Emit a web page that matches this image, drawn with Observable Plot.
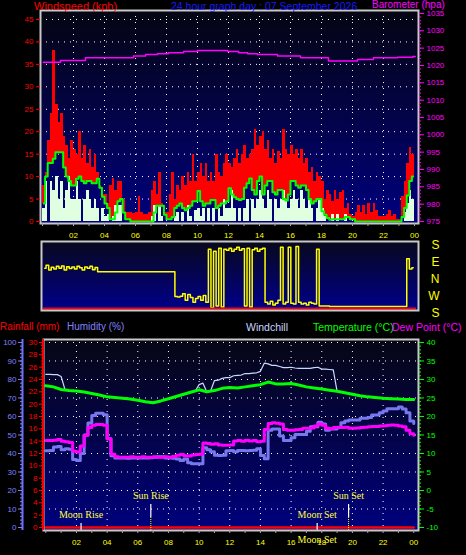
<!DOCTYPE html>
<html><head><meta charset="utf-8">
<script src="https://cdn.jsdelivr.net/npm/d3@7"></script>
<script src="https://cdn.jsdelivr.net/npm/@observablehq/plot@0.6"></script>
<style>
html,body{margin:0;padding:0;background:#000;}
#root{position:relative;width:466px;height:555px;background:#000;overflow:hidden;font-family:"Liberation Sans",Arial,sans-serif;}
.lbl{position:absolute;white-space:nowrap;font-size:11px;line-height:10px;}
.pnl{position:absolute;left:0;}
.pnl svg{overflow:visible;}
</style></head><body><div id="root"></div><script>
// ---------- DATA ----------
// Wind (10-minute samples, index i -> hour i/6), kph
const windGust = [
 8,11,18,24,38,26, 22,24,19,17,14,18, 16,15,20,14,17,13, 16,12,15,11,8,6,
 6,4,8,9.5,7,9, 9,5,2,2,2,1.8, 2,5.5,2,1.5,1.5,2, 7,9,6,11,4,2,
 2,6,11,5,8,7, 10,8,11,9,15,9, 11,13,10,13,9,11, 9,15,11,10,13,15,
 13,12,14,16,13,15, 17,14,15,16,20.5,17, 19,20,16,18,14,16, 13,15.5,14,20.5,16,15,
 17,15,16,14,16,13, 14,11,12,9,11,10, 9,5,7,6,4.5,7, 5,6.5,7,3,4,1.5,
 1,2,3.5,2,3.5,1.5, 4,2,4,2.5,1,1, 1,1.5,2.5,1,1.5,0.5, 0.5,5.5,9,13,16.5,15];
const windAvg = [
 4,10,13,13,14,15.4, 15.4,15.4,12,10,9,8, 8,9.5,10,9,8.5,9, 9,8.5,8.5,9.5,7.5,5.5,
 4,3,0.5,0.5,2,4.5, 5,2,0.5,0.5,0,0, 0,0,0,0,0,0, 0,2,3.5,3.5,3.5,1.5,
 0.5,0.5,1,3,3.5,4, 3,2.5,3,3.5,4.5,4.5, 6.8,4.5,3.5,4,4,4.8, 4.8,3,3.5,4,4,4.5,
 7.4,6,5.4,5,4.8,5, 7.5,8.5,9.6,7,6,9, 10,6,8,9,9,6.5, 6,7,7,5,4.7,6,
 9,9,8,7.5,8,8, 7,5,4,4.5,5,5, 2.3,1.5,0.8,0.4,0.5,0.5, 0.5,0.5,0.5,1,1,0.5,
 0.5,0,0,0,0,0, 0,0,0,0,0,0, 0,0,0,0,0,0, 0,1,3,5.8,9,10];
const windSpeed = [
 3,9,0,9,7,10, 5,9,3,7,10,5, 5,9,5,0,5,7, 5,3,5,3,0,3,
 1,1.5,0,1,3.5,3.5, 3.5,0,0,0,0,0, 0,0,0,0,0,0, 1,3.5,0,3.5,1,0,
 0,0,0,1,2,0, 2,0,3.5,1,0,2.5, 3,1,3,0,3,0, 3,0,3,1,5,3,
 3,7,3,0,3,0, 3,5,0,5,3,5, 7,5,3,7,5,0, 5,3,5,7,5,3,
 5,7,5,3,7,5, 3,5,3,0,3,5, 3,1,0,0,1.5,0, 1.5,0,0,1.5,0,0,
 0,0,0,0,0,0, 0,0,0,0,0,0, 0,0,0,0,0,0, 0,0,2,4,7,5];
// Barometer (hPa), step changes
const baroHours  = [0.05, 1.16, 2.77, 5.87, 6.65, 7.42, 8.13, 9.1, 10.0, 11.94, 12.65, 13.23, 13.87, 15.16, 16.65, 18.45, 20.32, 21.35, 22.9, 23.9, 24.05];
const baroValues = [1020.9, 1021.4, 1022.2, 1022.7, 1023.2, 1023.4, 1023.7, 1024.0, 1024.3, 1024.0, 1023.7, 1023.4, 1023.2, 1022.7, 1022.2, 1021.3, 1021.7, 1022.2, 1022.4, 1022.6, 1022.6];
// Wind direction (10-minute samples), degrees, N=0, E=90, W=-90, S=+/-180
const windDir = [
 60,75,50,65,55,70, 60,72,50,68,58,66, 55,70,62,50,66,60, 70,52,64,41,41,41,
 41,41,41,41,41,41, 41,41,41,41,41,41, 41,41,41,41,41,41, 41,41,41,41,41,41,
 41,41,41,-90,-92,-88, -75,-110,-80,-95,-120,-100, -90,-110,-85,-120,160,-150, 150,-140,165,-145,160,155,
 165,150,160,170,155,162, -140,165,-145,158,165,150, 160,165,-120,-130,-115,-135, -125,-110,170,-130,-120,170,
 -125,-130,175,-120,-130,-125, -135,-120,-125,-130,160,-140, -140,-140,-140,-143,-143,-143, -143,-143,-143,-143,-143,-143,
 -143,-143,-143,-143,-143,-143, -143,-143,-143,-143,-143,-143, -143,-143,-143,-143,-143,-143, -143,-143,-143,110,55,62];
const dirLabels = ["S","E","N","W","S"];
const dirLabelValues = [180, 90, 0, -90, -180];
// Temperature (°C), half-hourly from 00:00
const temperature = [28.3,28.0, 27.3,27.0, 26.9,26.6, 26.2,25.8, 25.3,25.1, 24.9,24.7, 24.4,24.0, 23.7,24.2,
 24.8,25.4, 26.0,26.6, 27.2,26.7, 27.0,27.6, 27.8,27.7, 28.0,28.3, 28.6,29.3, 28.8,28.8, 28.9,28.5,
 28.0,27.7, 27.4,27.1, 26.8,26.4, 26.0,25.6, 25.3,25.1, 24.9,24.8, 24.7,24.6, 24.6];
// Quarter-hourly series from 00:00
const dewPoint = [13.5,13.5,13.6,13.8, 13.3,13.2,13.0,10.6, 10.4,12.0,14.9,17.0, 17.6,17.8,17.8,17.6,
 14.0,9.8,9.1,9.0, 9.0,9.0,9.1,9.0, 9.0,9.1,9.0,9.0, 9.1,9.0,9.0,9.1, 9.0,9.2,9.5,9.7, 9.4,9.3,9.6,9.7,
 9.8,12.8,12.7,12.5, 12.6,12.3,12.2,12.2, 12.3,13.4,13.5,13.3, 13.6,13.4,13.5,13.2, 13.3,16.5,18.1,18.3,
 18.2,18.0,16.5,16.3, 16.3,16.4,16.5,16.8, 16.8,16.9,17.4,18.0, 17.6,16.8,16.7,17.0, 17.1,17.0,17.1,16.8,
 16.8,16.9,17.0,17.1, 17.2,17.3,17.3,17.4, 17.5,17.6,17.7,17.6, 17.4,17.2,16.3,15.3, 14.9];
const humidity = [41.5,41.6,43.5,43.8, 42.0,42.5,42.3,36.8, 36.2,40.0,50.0,56.5, 60.5,61.8,61.8,61.0,
 48.0,38.8,37.6,37.5, 37.6,37.4,37.6,37.5, 37.6,37.5,37.6,37.7, 38.0,38.2,38.2,37.6, 37.5,37.4,37.0,36.2,
 37.0,35.0,34.4,34.4, 34.4,43.1,42.0,41.0, 39.0,38.9,39.0,41.5, 41.6,41.0,41.6,41.6, 41.5,41.6,41.8,42.5,
 38.9,37.1,52.5,53.3, 53.3,49.5,47.0,47.0, 48.5,50.3,50.3,50.3, 52.0,54.4,54.4,56.9, 56.0,52.5,53.3,53.3,
 54.0,56.6,57.5,58.1, 58.1,58.1,59.0,59.0, 59.5,60.8,60.8,62.0, 63.0,64.2,64.2,64.2, 65.1,64.0,62.0,57.5, 56.2];
const windChill = [31.4,31.4,31.3,31.3, 30.8,27.3,27.0,27.0, 26.9,26.8,26.6,26.4, 26.2,26.0,25.8,25.5,
 25.3,25.2,25.1,25.0, 24.9,24.8,24.7,24.5, 24.4,24.2,24.0,23.8, 23.7,23.9,24.2,24.5, 24.8,25.1,25.4,25.7,
 26.0,26.3,26.6,26.9, 28.6,29.0,26.7,26.9, 29.7,29.8,30.3,30.5, 30.5,31.0,31.1,31.2, 31.6,31.6,31.7,31.8,
 32.2,34.4,34.2,33.8, 33.8,33.5,33.2,33.2, 33.3,33.1,33.0,33.0, 33.0,33.0,33.2,33.3, 32.8,32.8,32.7,32.6,
 26.8,26.6,26.4,26.2, 26.0,25.8,25.6,25.4, 25.3,25.2,25.1,25.0, 24.9,24.85,24.8,24.75, 24.7,24.65,24.6,24.6, 24.6];
// Rainfall (mm), hourly
const rainfall = [0,0,0,0,0,0,0,0,0,0,0,0,0,0,0,0,0,0,0,0,0,0,0,0,0];
// Sun and moon events (hour of day)
const eventNames = ["Moon Rise", "Sun Rise", "Moon Set", "Sun Set"];
const eventHours = [2.3, 6.85, 17.7, 19.75];
const eventKinds = ["moon", "sun", "moon", "sun"];
// Axis tick values
const hourTicks = d3.range(0, 25, 1);
const hourLabelTicks = d3.range(2, 25, 2);
const windTicks = [0,5,10,15,20,25,30,35,40,45];
const baroTicks = [975,980,985,990,995,1000,1005,1010,1015,1020,1025,1030,1035];
const humTicks = [0,10,20,30,40,50,60,70,80,90,100];
const rainTicks = [0,2,4,6,8,10,12,14,16,18,20,22,24,26,28,30];
const tempTicks = [-10,-5,0,5,10,15,20,25,30,35,40];

// ---------- HELPERS ----------
const YELLOW = "#ffff00";
const fmtHour = h => String(h % 24).padStart(2, "0");
const baroK = 0.77228;              // hPa -> kph-axis units
const toWindAxis = p => (p - 975) * baroK;
const tempToHum = t => (t + 10) * 2;
const rainToHum = r => r * 10 / 3;

function gradientBg(id, c0, c1) {
  return (index, scales, values, dims) => {
    const g = d3.create("svg:g");
    const lg = g.append("defs").append("linearGradient").attr("id", id)
      .attr("x1", 0).attr("y1", 0).attr("x2", 0).attr("y2", 1);
    lg.append("stop").attr("offset", 0).attr("stop-color", c0);
    lg.append("stop").attr("offset", 1).attr("stop-color", c1);
    g.append("rect").attr("x", dims.marginLeft).attr("y", dims.marginTop)
      .attr("width", dims.width - dims.marginLeft - dims.marginRight)
      .attr("height", dims.height - dims.marginTop - dims.marginBottom)
      .attr("fill", `url(#${id})`);
    return g.node();
  };
}
const baseStyle = {background: "transparent", color: "#fff", fontFamily: "Liberation Sans, Arial, sans-serif", fontSize: "8px", overflow: "visible"};
const root = document.getElementById("root");
function place(node, top) {
  const d = document.createElement("div");
  d.className = "pnl"; d.style.top = top + "px";
  d.appendChild(node); root.appendChild(d);
}
function label(text, left, top, color, size) {
  const s = document.createElement("span");
  s.className = "lbl"; s.textContent = text;
  s.style.left = left + "px"; s.style.top = top + "px"; s.style.color = color;
  if (size) s.style.fontSize = size + "px";
  root.appendChild(s);
}

// ---------- PANEL 1: wind speed + barometer ----------
const windRows = windGust.map((g, i) => ({t: i / 6, gust: g, avg: windAvg[i], speed: windSpeed[i]}));
const baroRows = baroHours.map((h, i) => ({t: h, v: toWindAxis(baroValues[i])}));
const p1 = Plot.plot({
  width: 466, height: 245, marginLeft: 40, marginRight: 48, marginTop: 10, marginBottom: 22,
  style: baseStyle,
  x: {domain: [-0.13, 24.26], axis: null},
  y: {domain: [-0.45, 47], axis: null, label: null},
  marks: [
    gradientBg("g1", "#050512", "#00007e"),
    Plot.ruleY(windTicks.slice(1), {stroke: "#ffffff", strokeDasharray: "1,5"}),
    Plot.ruleX(hourLabelTicks.slice(0, -1), {stroke: "#ffffff", strokeDasharray: "1,5"}),
    Plot.rect(windRows, {x1: "t", x2: d => d.t + 1/6, y1: "avg", y2: "gust", fill: "#ff0000", shapeRendering: "crispEdges"}),
    Plot.rect(windRows, {x1: "t", x2: d => d.t + 1/6, y1: 0, y2: "speed", fill: "#e0ffe0", shapeRendering: "crispEdges"}),
    Plot.line(windRows, {x: d => d.t + 1/12, y: "avg", stroke: "#00ff00", strokeWidth: 2, curve: "step"}),
    Plot.line(baroRows, {x: "t", y: "v", stroke: "#ff00ff", strokeWidth: 1.5, curve: "step-after"}),
    Plot.frame({stroke: "#c8c8c8", strokeWidth: 2}),
    Plot.axisY({anchor: "left", ticks: windTicks, tickFormat: v => String(v), tickSize: 4, tickPadding: 3, color: "#ff0000", label: null}),
    Plot.axisY({anchor: "right", ticks: baroTicks.map(toWindAxis), tickFormat: v => String(Math.round(v / baroK + 975)), tickSize: 5, tickPadding: 3, color: "#ff00ff", label: null}),
    Plot.axisY({anchor: "right", ticks: d3.range(975, 1036).map(toWindAxis), tickFormat: () => "", tickSize: 2, color: "#ff00ff", label: null}),
    Plot.axisX({anchor: "bottom", ticks: hourTicks, tickFormat: () => "", tickSize: 3, color: "#a8a8a8", label: null}),
    Plot.axisX({anchor: "bottom", ticks: hourLabelTicks, tickFormat: fmtHour, tickSize: 0, tickPadding: 9, color: YELLOW, label: null})
  ]
});
place(p1, 0);

// ---------- PANEL 2: wind direction ----------
const dirRows = windDir.map((d, i) => ({t: i / 6 + 1/12, d}));
const dirDomain = [-164, 201];
const p2 = Plot.plot({
  width: 466, height: 80, marginLeft: 41, marginRight: 48, marginTop: 1, marginBottom: 10,
  style: baseStyle,
  x: {domain: [-0.13, 24.26], axis: null},
  y: {domain: dirDomain, axis: null, label: null},
  marks: [
    gradientBg("g2", "#08081c", "#00008c"),
    Plot.line(dirRows, {x: "t", y: "d", stroke: YELLOW, strokeWidth: 1.5, curve: "step"}),
    Plot.ruleY([dirDomain[0]], {dy: -2, stroke: "#ff0000", strokeWidth: 2, insetLeft: 2, insetRight: 2}),
    Plot.frame({stroke: "#c8c8c8", strokeWidth: 2}),
    Plot.text(dirLabels, {y: (d, i) => dirLabelValues[i], text: d => d, frameAnchor: "right", dx: 21, fill: YELLOW, fontSize: 12})
  ]
});
place(p2, 240);

// ---------- PANEL 3: temperature, humidity, dew point, rain ----------
const q = i => i / 4;
const tempRows = temperature.map((v, i) => ({t: i / 2, y: tempToHum(v)}));
const dewRows = dewPoint.map((v, i) => ({t: q(i), y: tempToHum(v)}));
const humRows = humidity.map((v, i) => ({t: q(i), y: v}));
const chillRows = windChill.map((v, i) => ({t: q(i), y: tempToHum(v)}));
const rainRows = rainfall.map((v, i) => ({t: i, y: rainToHum(v)}));
const events = eventNames.map((n, i) => ({name: n, t: eventHours[i], kind: eventKinds[i]}));
const sunEv = events.filter(e => e.kind === "sun");
const moonEv = events.filter(e => e.kind === "moon");
const x3 = [-0.15, 24.31];
const p3 = Plot.plot({
  width: 466, height: 235, marginLeft: 43, marginRight: 48, marginTop: 19, marginBottom: 25,
  style: baseStyle,
  x: {domain: x3, axis: null},
  y: {domain: [-1.62, 101.6], axis: null, label: null},
  marks: [
    gradientBg("g3", "#060614", "#00007e"),
    Plot.ruleY(humTicks.slice(1), {stroke: "#ffffff", strokeDasharray: "1,5"}),
    Plot.ruleX(hourLabelTicks.slice(0, -1), {stroke: "#ffffff", strokeDasharray: "1,5"}),
    Plot.line(chillRows, {x: "t", y: "y", stroke: "#c8d8ff", strokeWidth: 1.2}),
    Plot.line(tempRows, {x: "t", y: "y", stroke: "#00ff00", strokeWidth: 3}),
    Plot.line(humRows, {x: "t", y: "y", stroke: "#7878ee", strokeWidth: 3, curve: "step-after"}),
    Plot.line(dewRows, {x: "t", y: "y", stroke: "#ff00ff", strokeWidth: 3, curve: "step-after"}),
    Plot.line(rainRows, {x: "t", y: "y", stroke: "#ff0000", strokeWidth: 2.5}),
    Plot.ruleX(sunEv, {x: "t", insetTop: 165, insetBottom: 13, stroke: "#ffffff", strokeWidth: 1.2}),
    Plot.ruleX(sunEv, {x: "t", insetTop: 178, stroke: YELLOW, strokeDasharray: "1,1"}),
    Plot.ruleX(moonEv, {x: "t", insetTop: 184, stroke: "#ffffff", strokeWidth: 1.2}),
    Plot.text(sunEv, {x: "t", text: "name", frameAnchor: "bottom", dy: -32, fill: "#ffff40", fontSize: 10, fontFamily: "Liberation Serif, serif"}),
    Plot.text(moonEv, {x: "t", text: "name", frameAnchor: "bottom", dy: -13, fill: "#ffff40", fontSize: 10, fontFamily: "Liberation Serif, serif"}),
    Plot.frame({stroke: "#c8c8c8", strokeWidth: 2}),
    Plot.ruleX([x3[0]], {dx: -0.5, stroke: "#ff0000", strokeWidth: 2}),
    Plot.ruleX([x3[0]], {dx: -21, stroke: "#7070ff", strokeWidth: 2}),
    Plot.axisY({anchor: "left", ticks: rainTicks.map(rainToHum), tickFormat: v => String(Math.round(v * 0.3)), tickSize: 4, tickPadding: 2, color: "#ff0000", label: null}),
    Plot.axisY({anchor: "left", ticks: d3.range(0, 30.01, 0.5).map(rainToHum), tickFormat: () => "", tickSize: 2, color: "#ff0000", label: null}),
    Plot.axisY({anchor: "left", ticks: humTicks, tickFormat: v => String(v), tickSize: 4, tickPadding: 2, dx: -21, color: "#8080ff", label: null}),
    Plot.axisY({anchor: "left", ticks: d3.range(0, 101, 2), tickFormat: () => "", tickSize: 2, dx: -21, color: "#8080ff", label: null}),
    Plot.axisY({anchor: "right", ticks: tempTicks.map(tempToHum), tickFormat: v => String(Math.round(v / 2 - 10)), tickSize: 5, tickPadding: 3, color: "#00ff00", label: null}),
    Plot.axisY({anchor: "right", ticks: d3.range(-10, 41, 1).map(tempToHum), tickFormat: () => "", tickSize: 2, color: "#00ff00", label: null}),
    Plot.axisX({anchor: "bottom", ticks: hourTicks, tickFormat: () => "", tickSize: 3, color: "#a8a8a8", label: null}),
    Plot.axisX({anchor: "bottom", ticks: hourLabelTicks, tickFormat: fmtHour, tickSize: 0, tickPadding: 9, color: YELLOW, label: null}),
    Plot.text(events.filter(e => e.name === "Moon Set"), {x: "t", text: "name", frameAnchor: "bottom", dy: 12, fill: "#ffff40", fontSize: 10, fontFamily: "Liberation Serif, serif"})
  ]
});
place(p3, 320);

// ---------- TITLES ----------
label("Windspeed (kph)", 34, 1, "#ff0000");
label("24 hour graph day : 07 September 2026", 171, 1, "#1818ff", 10.5);
label("Barometer (hpa)", 372, 0, "#ff00ff", 10);
label("Rainfall (mm)", 0, 322, "#ff0000", 10);
label("Humidity (%)", 67, 322, "#8080ff", 10);
label("Windchill", 246, 322, "#c8d4ff", 10.5);
label("Temperature (°C)", 313, 322, "#00ff00", 10.5);
label("Dew Point (°C)", 392, 322, "#ff00ff", 10.5);
</script></body></html>
